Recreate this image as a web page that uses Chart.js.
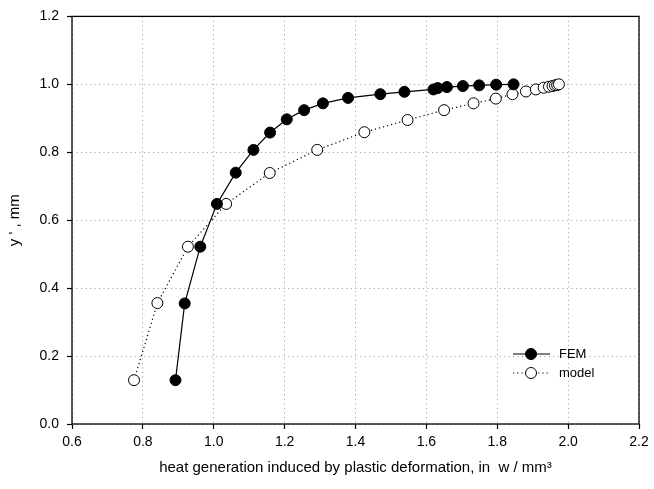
<!DOCTYPE html>
<html lang="en">
<head>
  <meta charset="UTF-8">
  <title>Heat generation vs y'</title>
  <script src="https://cdn.jsdelivr.net/npm/chart.js"></script>
  <style>
    html, body { margin: 0; padding: 0; background: #fff; }
    #wrap { width: 654px; height: 489px; }
  </style>
</head>
<body>
  <div id="wrap"><canvas id="chart" width="654" height="489"></canvas></div>
  <script>
    // data
    const femX = [0.892, 0.918, 0.962, 1.009, 1.062, 1.112, 1.159, 1.206, 1.255, 1.308, 1.379, 1.470, 1.538, 1.620, 1.632, 1.658, 1.703, 1.749, 1.797, 1.846];
    const femY = [0.129, 0.355, 0.522, 0.648, 0.740, 0.807, 0.858, 0.897, 0.924, 0.944, 0.960, 0.971, 0.978, 0.985, 0.989, 0.992, 0.995, 0.997, 0.999, 1.000];
    const modelX = [0.775, 0.841, 0.927, 1.035, 1.158, 1.292, 1.425, 1.547, 1.650, 1.733, 1.796, 1.843, 1.881, 1.909, 1.931, 1.946, 1.956, 1.963, 1.969, 1.974];
    const modelY = [0.129, 0.356, 0.522, 0.648, 0.739, 0.807, 0.859, 0.895, 0.924, 0.944, 0.958, 0.971, 0.979, 0.985, 0.990, 0.993, 0.995, 0.997, 0.998, 1.000];
    const seriesNames = ['FEM', 'model'];
    const xTitle = 'heat generation induced by plastic deformation, in  w / mm\u00b3';
    const yTitle = "y ' , mm";

    const FONT = "'Liberation Sans', Arial, sans-serif";

    const toPoints = (xs, ys) => xs.map((x, i) => ({ x: x, y: ys[i] }));

    // box round the plot area
    const framePlugin = {
      id: 'frame',
      afterDraw(chart) {
        const a = chart.chartArea;
        const ctx = chart.ctx;
        ctx.save();
        ctx.strokeStyle = '#000';
        ctx.lineWidth = 1.3;
        ctx.setLineDash([]);
        ctx.strokeRect(a.left, a.top, a.right - a.left, a.bottom - a.top);
        ctx.restore();
      }
    };

    // legend: line + marker + label, like the original
    const legendPlugin = {
      id: 'lineLegend',
      afterDraw(chart) {
        const ctx = chart.ctx;
        const x0 = 513, x1 = 550, xm = 531, xt = 559;
        const rows = [354, 373];
        ctx.save();
        chart.data.datasets.forEach((ds, i) => {
          const y = rows[i];
          ctx.strokeStyle = '#000';
          ctx.lineWidth = ds.borderWidth;
          ctx.setLineDash(ds.borderDash || []);
          ctx.beginPath();
          ctx.moveTo(x0, y);
          ctx.lineTo(x1, y);
          ctx.stroke();
          ctx.setLineDash([]);
          ctx.beginPath();
          ctx.arc(xm, y, ds.pointRadius, 0, Math.PI * 2);
          ctx.fillStyle = ds.pointBackgroundColor;
          ctx.fill();
          ctx.lineWidth = 1;
          ctx.stroke();
          ctx.fillStyle = '#000';
          ctx.font = '13px ' + FONT;
          ctx.textBaseline = 'middle';
          ctx.textAlign = 'left';
          ctx.fillText(ds.label, xt, y);
        });
        ctx.restore();
      }
    };

    const gridOpts = {
      color: '#9a9a9a',
      lineWidth: 1,
      tickColor: '#000',
      tickLength: 5,
      tickWidth: 1.2,
      tickBorderDash: []
    };

    new Chart(document.getElementById('chart'), {
      type: 'scatter',
      data: {
        datasets: [
          {
            label: seriesNames[0],
            data: toPoints(femX, femY),
            showLine: true,
            borderColor: '#000',
            borderWidth: 1.2,
            pointRadius: 5.5,
            pointHoverRadius: 5.5,
            pointBackgroundColor: '#000',
            pointBorderColor: '#000',
            pointBorderWidth: 1
          },
          {
            label: seriesNames[1],
            data: toPoints(modelX, modelY),
            showLine: true,
            borderColor: '#000',
            borderWidth: 1.2,
            borderDash: [1.2, 3],
            pointRadius: 5.5,
            pointHoverRadius: 5.5,
            pointBackgroundColor: '#fff',
            pointBorderColor: '#000',
            pointBorderWidth: 1
          }
        ]
      },
      options: {
        responsive: false,
        animation: false,
        layout: { padding: { top: 16, right: 15, left: 0, bottom: 0 } },
        plugins: {
          legend: { display: false },
          tooltip: { enabled: false }
        },
        scales: {
          x: {
            type: 'linear',
            min: 0.6,
            max: 2.2,
            afterFit(s) { s.height = 65; },
            ticks: {
              stepSize: 0.2,
              autoSkip: false,
              maxRotation: 0,
              padding: 5,
              color: '#000',
              font: { family: FONT, size: 14 },
              callback: v => v.toFixed(1)
            },
            grid: gridOpts,
            border: { display: false, dash: [1, 3.5] },
            title: {
              display: true,
              text: xTitle,
              color: '#000',
              font: { family: FONT, size: 15 },
              padding: { top: 0, bottom: 12 }
            }
          },
          y: {
            type: 'linear',
            min: 0,
            max: 1.2,
            afterFit(s) { s.width = 72; },
            ticks: {
              stepSize: 0.2,
              autoSkip: false,
              padding: 8,
              color: '#000',
              font: { family: FONT, size: 14 },
              callback: v => v.toFixed(1)
            },
            grid: gridOpts,
            border: { display: false, dash: [1, 3.5] },
            title: {
              display: true,
              text: yTitle,
              color: '#000',
              font: { family: FONT, size: 15 },
              padding: { top: 6, bottom: 0 }
            }
          }
        }
      },
      plugins: [framePlugin, legendPlugin]
    });
  </script>
</body>
</html>
